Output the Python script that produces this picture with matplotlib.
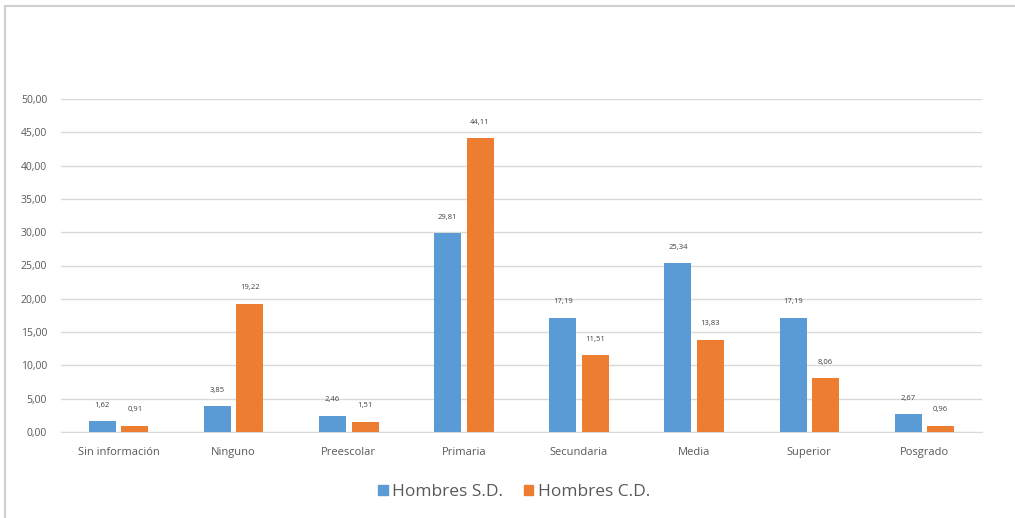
import matplotlib
matplotlib.use("Agg")
import matplotlib.pyplot as plt
import numpy as np
from matplotlib.lines import Line2D

categories = ["Sin información", "Ninguno", "Preescolar", "Primaria",
              "Secundaria", "Media", "Superior", "Posgrado"]
hombres_sd = [1.62, 3.85, 2.46, 29.81, 17.19, 25.34, 17.19, 2.67]
hombres_cd = [0.91, 19.22, 1.51, 44.11, 11.51, 13.83, 8.06, 0.96]
series_names = ["Hombres S.D.", "Hombres C.D."]
yticks = [0, 5, 10, 15, 20, 25, 30, 35, 40, 45, 50]

plt.rcParams['font.family'] = ['Open Sans', 'DejaVu Sans']

W, H = 1015, 518
fig = plt.figure(figsize=(W / 100, H / 100), dpi=100)
fig.patch.set_facecolor("white")

ax = fig.add_axes([61 / W, 1 - 432 / H, (982 - 61) / W, (432 - 99) / H])

x = np.arange(len(categories))
bw = 0.235
off = 0.141
blue = "#5B9BD5"
orange = "#ED7D31"
b1 = ax.bar(x - off, hombres_sd, bw, color=blue, zorder=3)
b2 = ax.bar(x + off, hombres_cd, bw, color=orange, zorder=3)

def fmt(v):
    return f"{v:.2f}".replace(".", ",")

for bars, vals in ((b1, hombres_sd), (b2, hombres_cd)):
    for rect, v in zip(bars, vals):
        ax.annotate(fmt(v), (rect.get_x() + rect.get_width() / 2, v),
                    xytext=(0, 9), textcoords="offset points",
                    ha="center", va="bottom", fontsize=5.5, color="#404040")

ax.set_xlim(-0.5, len(categories) - 0.5)
ax.set_ylim(0, 50)
ax.set_yticks(yticks)
ax.set_yticklabels([fmt(v) for v in yticks], fontsize=7.5, color="#595959")
ax.set_xticks(x)
ax.set_xticklabels(categories, fontsize=8, color="#595959")
ax.tick_params(axis="y", length=0, pad=10)
ax.tick_params(axis="x", length=0, pad=11)
ax.yaxis.grid(True, color="#D9D9D9", linewidth=1, zorder=0)
for s in ["top", "right", "left"]:
    ax.spines[s].set_visible(False)
ax.spines["bottom"].set_color("#D9D9D9")

handles = [plt.Rectangle((0, 0), 1, 1, color=blue),
           plt.Rectangle((0, 0), 1, 1, color=orange)]
fig.legend(handles, series_names, loc="center", bbox_to_anchor=(514 / W, 1 - 492 / H),
           ncol=2, frameon=False, fontsize=12.5, handlelength=0.55, handleheight=0.55,
           handletextpad=0.25, columnspacing=1.2, labelcolor="#595959")

# outer border (light gray) at left and top
fig.add_artist(Line2D([5 / W, 5 / W], [0, 1 - 6 / H], transform=fig.transFigure,
                      color="#D0D0D0", linewidth=1.5))
fig.add_artist(Line2D([5 / W, 1], [1 - 6 / H, 1 - 6 / H], transform=fig.transFigure,
                      color="#D0D0D0", linewidth=1.5))

fig.savefig("out.png", dpi=100, facecolor="white")
